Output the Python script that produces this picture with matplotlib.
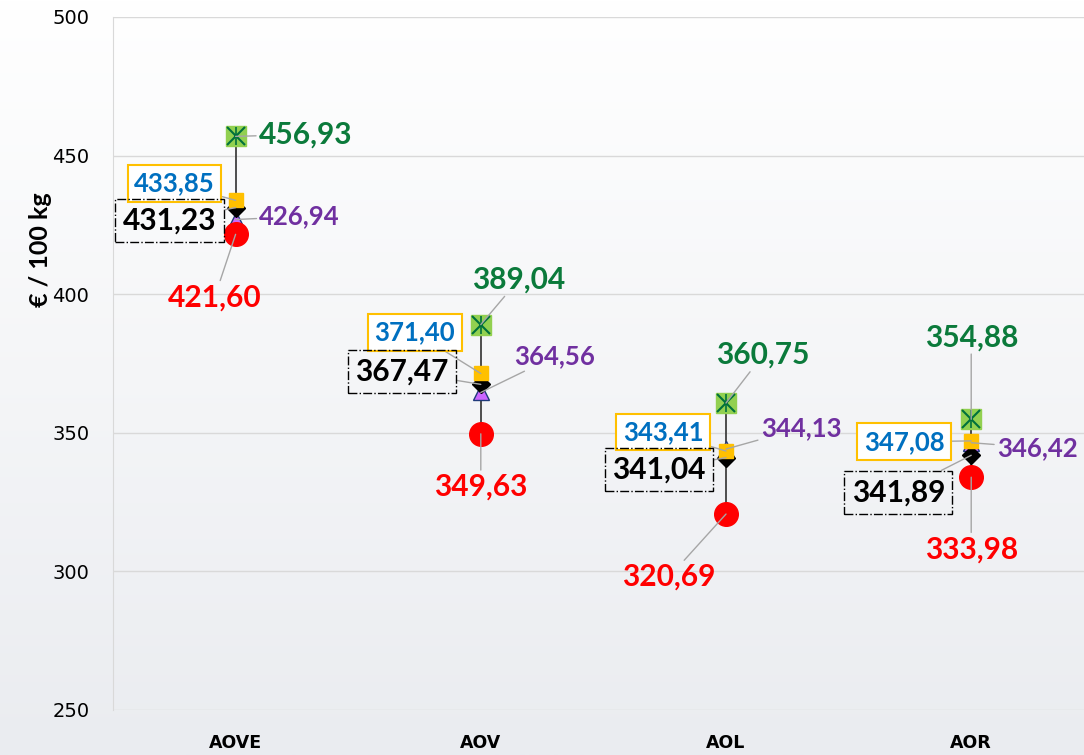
import numpy as np
import matplotlib.pyplot as plt
from matplotlib.colors import LinearSegmentedColormap

CATEGORIES = ["AOVE", "AOV", "AOL", "AOR"]
GREEN = [456.93, 389.04, 360.75, 354.88]
YELLOW = [433.85, 371.40, 343.41, 347.08]
BLACK = [431.23, 367.47, 341.04, 341.89]
PURPLE = [426.94, 364.56, 344.13, 346.42]
RED = [421.60, 349.63, 320.69, 333.98]

# label offsets in pixels (dx, dy) per series, per category
OFF_GREEN = [(70, 2), (38, 45), (37, 48), (0, 82)]
OFF_YELLOW = [(-61, 17), (-66, 41), (-63, 19), (-67, -1)]
OFF_BLACK = [(-66, -13), (-79, 13), (-67, -12), (-73, -37)]
OFF_PURPLE = [(64, 3), (74, 36), (75, 21), (66, -5)]
OFF_RED = [(-21, -63), (0, -53), (-57, -63), (0, -72)]

LABEL_FONT = ["Lato", "DejaVu Sans"]


def fmt(v):
    return f"{v:.2f}".replace(".", ",")


def label(ax, x, v, off, color, size, bbox=None):
    ax.annotate(fmt(v), xy=(x, v), xytext=off, textcoords="offset pixels",
                ha="center", va="center", fontsize=size, fontweight="bold",
                color=color, family=LABEL_FONT, bbox=bbox, zorder=6,
                arrowprops=dict(arrowstyle="-", color="#a6a6a6", lw=1,
                                shrinkA=0, shrinkB=0))


def main() -> None:
    fig = plt.figure(figsize=(10.84, 7.55), dpi=100)

    # background gradient
    bg = fig.add_axes([0, 0, 1, 1], zorder=-10)
    grad = np.linspace(0, 1, 256).reshape(-1, 1)
    cmap = LinearSegmentedColormap.from_list("bg", ["#ffffff", "#eaecf0"])
    bg.imshow(grad, aspect="auto", cmap=cmap, extent=[0, 1, 0, 1])
    bg.axis("off")

    ax = fig.add_axes([113 / 1084, 45 / 755, 1 - 113 / 1084, 693 / 755])
    ax.set_facecolor("none")
    x = np.arange(len(CATEGORIES))

    lows = np.min([GREEN, YELLOW, BLACK, PURPLE, RED], axis=0)
    highs = np.max([GREEN, YELLOW, BLACK, PURPLE, RED], axis=0)
    ax.vlines(x, lows, highs, color="#404040", lw=1.3, zorder=2)

    ax.plot(x, PURPLE, ls="none", marker="^", ms=12, mfc="#cc66ff",
            mec="#1f3a7a", mew=1, zorder=3)
    ax.plot(x, RED, ls="none", marker="o", ms=17, mfc="#ff0000",
            mec="#ff0000", zorder=3.5)
    ax.plot(x, BLACK, ls="none", marker="D", ms=9, mfc="black",
            mec="black", zorder=4)
    ax.plot(x, YELLOW, ls="none", marker="s", ms=10, mfc="#ffc000",
            mec="#ffc000", zorder=4.5)
    ax.plot(x, GREEN, ls="none", marker="s", ms=14, mfc="#92d050",
            mec="#92d050", zorder=5)
    ax.plot(x, GREEN, ls="none", marker="x", ms=13, mec="#00703c",
            mew=1.5, zorder=5.1)
    ax.plot(x, GREEN, ls="none", marker="|", ms=13, mec="#00703c",
            mew=1.2, zorder=5.1)

    for i in range(len(CATEGORIES)):
        label(ax, x[i], GREEN[i], OFF_GREEN[i], "#0b7a3b", 21.5)
        label(ax, x[i], YELLOW[i], OFF_YELLOW[i], "#0070c0", 18.5,
              bbox=dict(boxstyle="square,pad=0.25", fc="white",
                        ec="#ffc000", lw=1.5))
        label(ax, x[i], BLACK[i], OFF_BLACK[i], "black", 21.5,
              bbox=dict(boxstyle="square,pad=0.25", fc="none",
                        ec="black", lw=1, ls="-."))
        label(ax, x[i], PURPLE[i], OFF_PURPLE[i], "#7030a0", 18.5)
        label(ax, x[i], RED[i], OFF_RED[i], "#ff0000", 21.5)

    ax.set_xlim(-0.5, 3.46)
    ax.set_ylim(250, 500)
    ax.set_yticks(range(250, 501, 50))
    ax.set_xticks(x)
    ax.set_xticklabels(CATEGORIES, fontweight="bold", fontsize=12.5)
    ax.tick_params(axis="y", length=0, pad=17, labelsize=14)
    ax.tick_params(axis="x", length=0, pad=17)
    ax.grid(axis="y", color="#d9d9d9", lw=1)
    ax.set_axisbelow(True)
    for side in ("top", "right", "bottom"):
        ax.spines[side].set_visible(False)
    ax.spines["left"].set_color("#d9d9d9")

    fig.text(40 / 1084, 1 - 250 / 755, "€ / 100 kg", rotation=90,
             ha="center", va="center", fontsize=18, fontweight="bold",
             family=LABEL_FONT)

    fig.savefig("out.png", dpi=100)


if __name__ == "__main__":
    main()
